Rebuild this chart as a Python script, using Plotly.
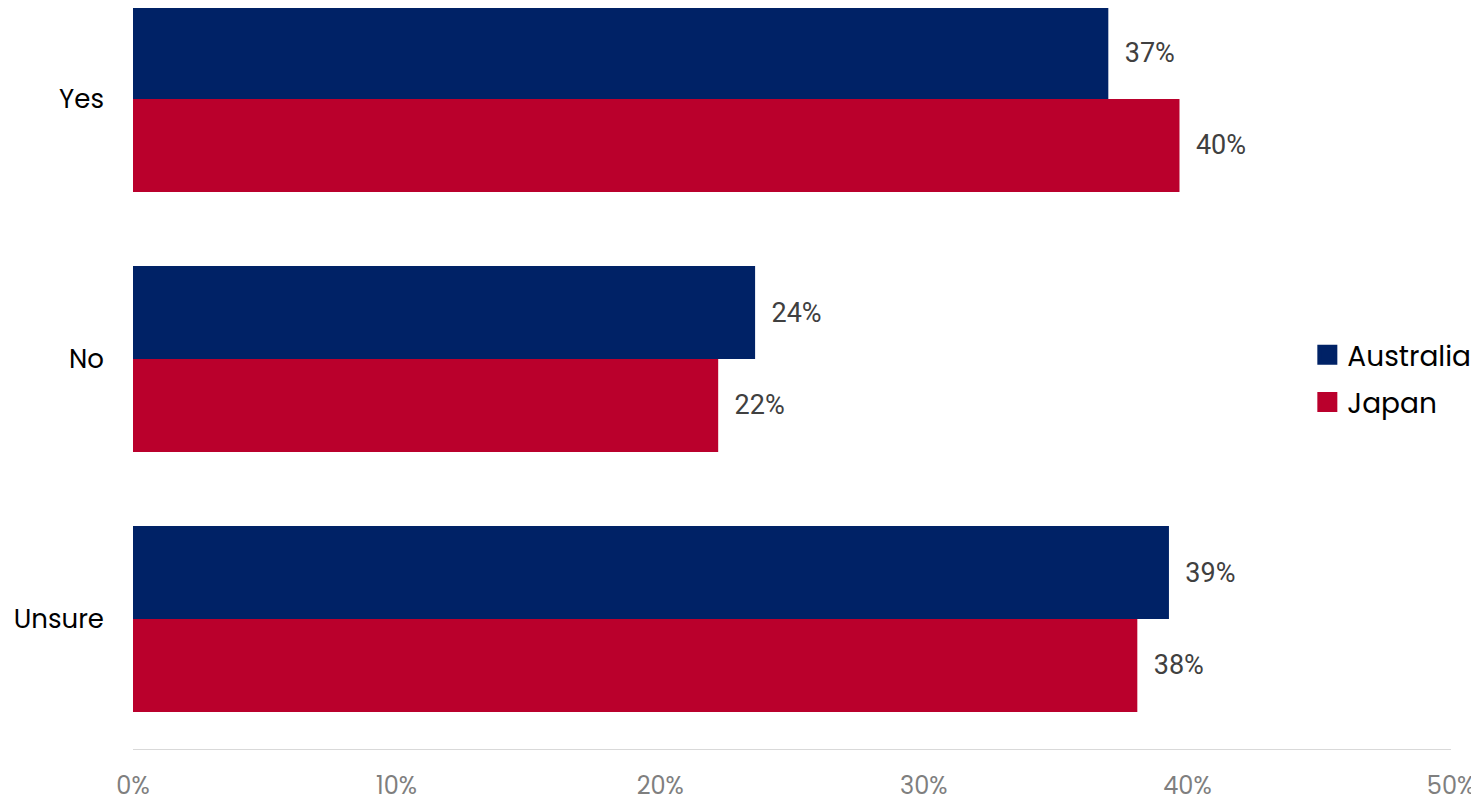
import plotly.graph_objects as go

categories = ["Yes", "No", "Unsure"]
australia = [37.0, 23.6, 39.3]
japan = [39.7, 22.2, 38.1]
x_ticks = [0, 10, 20, 30, 40, 50]

NAVY = "#002266"
RED = "#BA002C"
MAIN_FONT = "Poppins, Inter, Lato, sans-serif"
LABEL_FONT = "Roboto, Arial, sans-serif"

fig = go.Figure()

# bars (legend is drawn with dummy square markers below, plotly's bar icon is too small)
for name, vals, col in [("Australia", australia, NAVY), ("Japan", japan, RED)]:
    fig.add_trace(go.Bar(
        y=categories, x=vals, name=name, orientation="h",
        marker=dict(color=col, line=dict(width=0)),
        text=[f"{round(v)}%" for v in vals],
        texttemplate="  %{text}",
        textposition="outside",
        textfont=dict(family=LABEL_FONT, size=27, color="#404040"),
        cliponaxis=False,
        showlegend=False,
    ))

for name, col in [("Australia", NAVY), ("Japan", RED)]:
    fig.add_trace(go.Scatter(
        x=[None], y=[None], mode="markers", name=name, legendgroup=name,
        marker=dict(symbol="square", size=16, color=col, line=dict(color=col, width=4)),
    ))

# page body has an 8px margin, so the figure is sized a bit smaller
fig.update_layout(
    width=1471, height=793,
    barmode="group", bargap=0.285, bargroupgap=0,
    paper_bgcolor="white", plot_bgcolor="white",
    margin=dict(l=125, r=28, t=0, b=52, autoexpand=False),
    font=dict(family=MAIN_FONT, color="#000000"),
    legend=dict(
        x=0.891, y=0.5, xanchor="left", yanchor="middle",
        font=dict(family=MAIN_FONT, size=28, color="#000000"),
        traceorder="grouped", tracegroupgap=8,
        bgcolor="rgba(0,0,0,0)",
    ),
)

fig.update_xaxes(
    range=[0, 50], tickvals=x_ticks, ticktext=[f"{t}%" for t in x_ticks],
    showgrid=False, zeroline=False, automargin=False,
    showline=True, linecolor="#d9d9d9", linewidth=1,
    ticks="", ticklabelstandoff=15,
    tickfont=dict(family=MAIN_FONT, size=24, color="#7f7f7f"),
)
fig.update_yaxes(
    categoryorder="array", categoryarray=categories,
    range=[2.5, -0.35], automargin=False,
    showgrid=False, zeroline=False, showline=False, ticks="",
    ticklabelstandoff=28,
    tickfont=dict(family=MAIN_FONT, size=26, color="#000000"),
)

fig.write_html("out.html")
